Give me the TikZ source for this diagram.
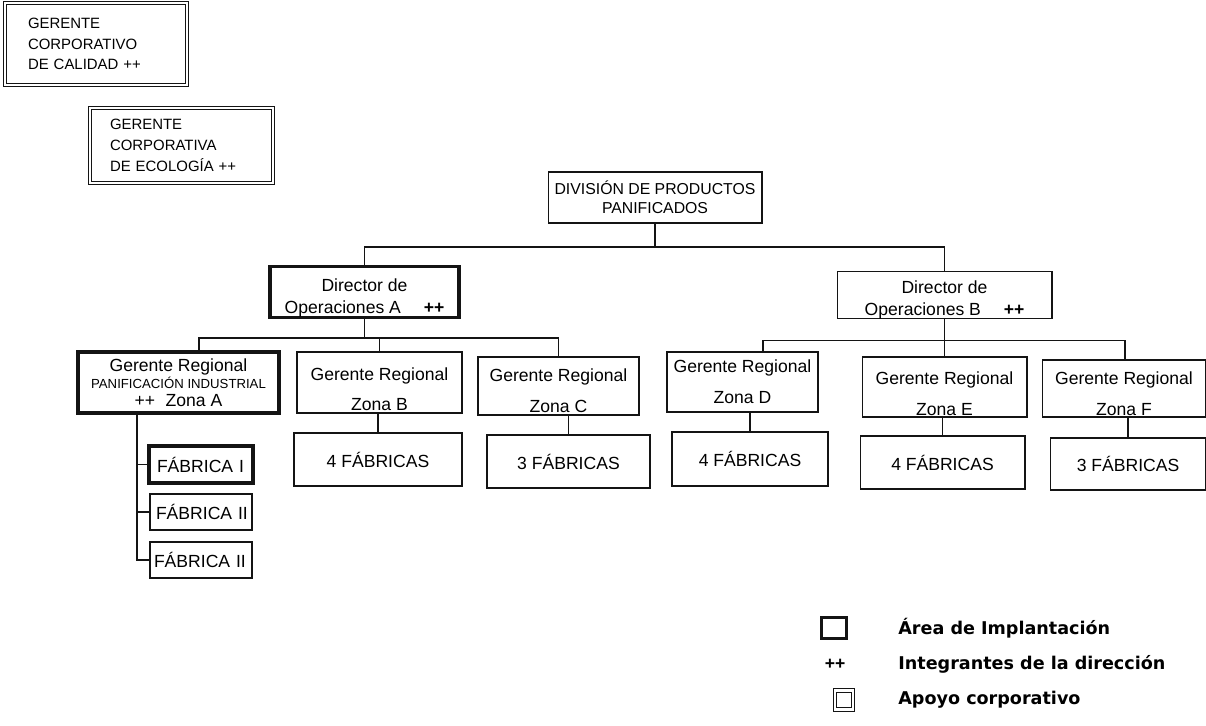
\documentclass[tikz,border=0pt]{standalone}
\usepackage{fontspec}
\setmainfont{Liberation Sans}
\newfontfamily\legendfont{DejaVu Sans}
\usetikzlibrary{positioning,calc}
\definecolor{Ink}{RGB}{20,20,20}
\newcommand\dropline[1]{\rule{0pt}{#1}}
\tikzset{
  link/.style={draw=Ink,line width=0.7pt},
  box/.style={draw=Ink,line width=0.6pt,inner sep=0pt,outer sep=0pt,
    align=center,font=\fontsize{10}{17.5}\selectfont},
  strongbox/.style={box,line width=1.8pt},
  supportbox/.style={draw=Ink,double,double distance=1.3pt,line width=0.6pt,
    inner sep=0pt,outer sep=0pt,align=left,font=\fontsize{8.5}{11.8}\selectfont},
  legendtext/.style={anchor=west,inner sep=0pt,
    font=\legendfont\bfseries\fontsize{10}{12}\selectfont}
}
\begin{document}
\begin{tikzpicture}[x=0.02cm,y=-0.02cm]
  \useasboundingbox (0,0) rectangle (1206,726);
  % corporate support
  \node[supportbox,minimum width=3.64cm,minimum height=1.64cm,text width=2.72cm,inner xsep=0.46cm] (calidad) at (96,44) {GERENTE\\CORPORATIVO\\DE CALIDAD ++};
  \node[supportbox,minimum width=3.66cm,minimum height=1.5cm,text width=2.86cm,inner xsep=0.4cm] (ecologia) at (181.5,145.5) {GERENTE\\CORPORATIVA\\DE ECOLOGÍA ++};
  % top of the chart
  \node[box,minimum width=4.28cm,minimum height=1.02cm,font=\fontsize{9}{10.8}\selectfont] (division) at (655,197.5) {DIVISIÓN DE PRODUCTOS\\PANIFICADOS};
  \node[strongbox,minimum width=3.78cm,minimum height=1.0cm,font=\fontsize{10}{12.5}\selectfont] (dirA) at (364.5,292) {\dropline{14pt}Director de\\Operaciones A\hspace{1.3em}\textbf{++}};
  \node[box,minimum width=4.3cm,minimum height=0.92cm,font=\fontsize{10}{12.5}\selectfont] (dirB) at (944.5,295) {\dropline{12.5pt}Director de\\Operaciones B\hspace{1.3em}\textbf{++}};
  % regional managers
  \node[strongbox,minimum width=4.02cm,minimum height=1.22cm,font=\fontsize{10}{9.8}\selectfont] (zonaA) at (178.5,382.5) {Gerente Regional\\{\fontsize{7.5}{9.8}\selectfont PANIFICACIÓN INDUSTRIAL}\\++\hspace{0.6em}Zona A};
  \node[box,minimum width=3.3cm,minimum height=1.22cm] (zonaB) at (379.5,382.5) {\dropline{15pt}Gerente Regional\\Zona B};
  \node[box,minimum width=3.22cm,minimum height=1.16cm] (zonaC) at (558.5,386) {\dropline{12.5pt}Gerente Regional\\Zona C};
  \node[box,minimum width=3.02cm,minimum height=1.2cm] (zonaD) at (742.5,382) {Gerente Regional\\Zona D};
  \node[box,minimum width=3.3cm,minimum height=1.2cm] (zonaE) at (944.5,387) {\dropline{15pt}Gerente Regional\\Zona E};
  \node[box,minimum width=3.28cm,minimum height=1.14cm] (zonaF) at (1124,388.5) {\dropline{13.5pt}Gerente Regional\\Zona F};
  % factories
  \node[box,minimum width=3.36cm,minimum height=1.06cm] (fabB) at (378,459.5) {4 FÁBRICAS};
  \node[box,minimum width=3.26cm,minimum height=1.06cm] (fabC) at (568.5,461.5) {3 FÁBRICAS};
  \node[box,minimum width=3.12cm,minimum height=1.08cm] (fabD) at (750,459) {4 FÁBRICAS};
  \node[box,minimum width=3.3cm,minimum height=1.06cm] (fabE) at (942.5,462.5) {4 FÁBRICAS};
  \node[box,minimum width=3.12cm,minimum height=1.04cm] (fabF) at (1128,464) {3 FÁBRICAS};
  \node[strongbox,align=left,minimum width=2.08cm,minimum height=0.74cm,text width=1.76cm,inner xsep=0.16cm] (fab1) at (201,464.5) {\mbox{FÁBRICA I}};
  \node[box,align=left,minimum width=2.04cm,minimum height=0.72cm,text width=1.8cm,inner xsep=0.12cm] (fab2) at (201,512) {\mbox{FÁBRICA II}};
  \node[box,align=left,minimum width=2.04cm,minimum height=0.72cm,text width=1.88cm,inner xsep=0.08cm] (fab3) at (201,560) {\mbox{FÁBRICA II}};
  % connectors
  \coordinate (bus1) at (655,247);
  \draw[link] (division) -- (bus1);
  \draw[link] (dirA.north) |- (bus1) -| (dirB.north);
  \coordinate (busA) at ($(dirA.south)+(0,21)$);
  \draw[link] (dirA.south) -- (busA);
  \draw[link] ([xshift=0.41cm]zonaA.north) |- (busA) -| (zonaC.north);
  \draw[link] (zonaB.north) -- (zonaB.north |- busA);
  \coordinate (busB) at ($(dirB.south)+(0,22)$);
  \draw[link] (dirB.south) -- (busB);
  \draw[link] ([xshift=0.41cm]zonaD.north) |- (busB) -| ([xshift=0.02cm]zonaF.north);
  \draw[link] (zonaE.north) -- (zonaE.north |- busB);
  \foreach \z in {B,C,D,E,F}
    \draw[link] (fab\z.north) -- (fab\z.north |- zona\z.south);
  \coordinate (trunk) at ([xshift=-0.83cm]zonaA.south);
  \draw[link] (trunk) |- (fab3.west);
  \draw[link] (fab1.west) -- (fab1.west -| trunk);
  \draw[link] (fab2.west) -- (fab2.west -| trunk);
  % legend
  \node[strongbox,minimum width=0.5cm,minimum height=0.42cm] (keyImpl) at (834,628) {};
  \node[legendtext] (txtImpl) at (898,628) {Área de Implantación};
  \node[inner sep=0pt,font=\fontsize{10}{10}\selectfont\bfseries] (keyDir) at (835,664) {++};
  \node[legendtext] (txtDir) at (898,664) {Integrantes de la dirección};
  \node[supportbox,minimum width=0.36cm,minimum height=0.38cm] (keyApoyo) at (844,700) {};
  \node[legendtext] (txtApoyo) at (898,700) {Apoyo corporativo};
\end{tikzpicture}
\end{document}
